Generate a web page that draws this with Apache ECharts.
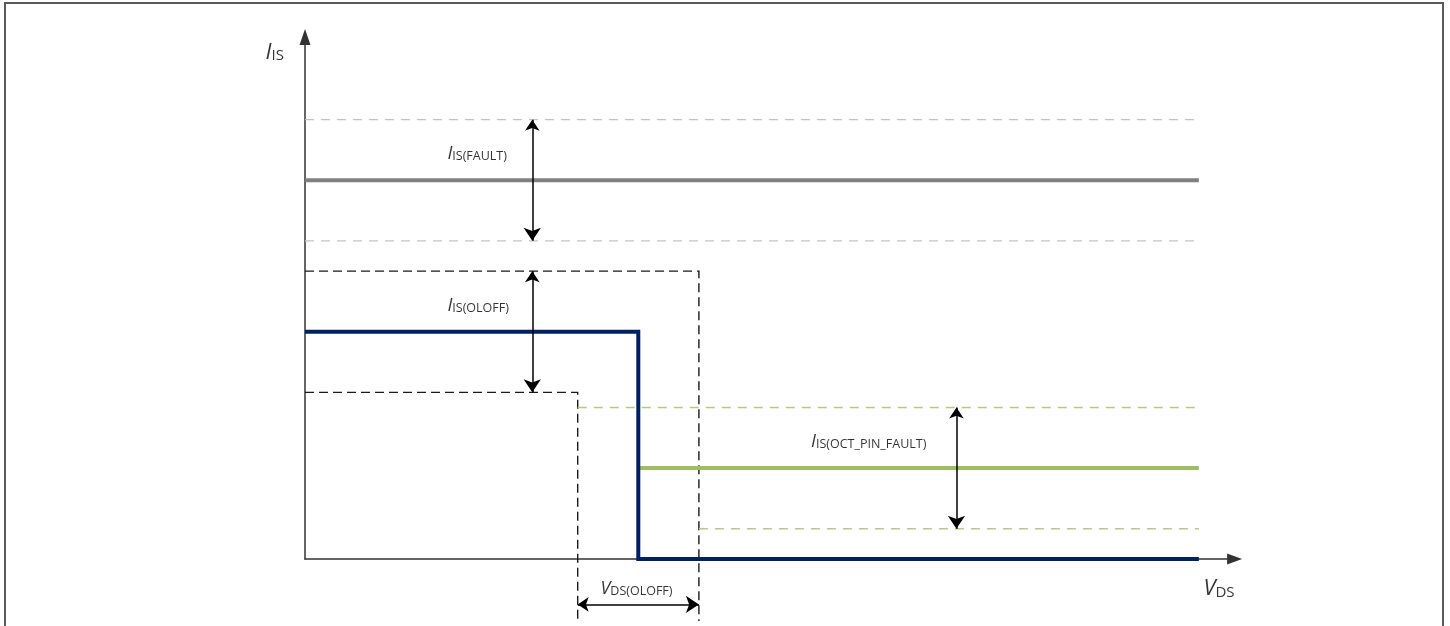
<!DOCTYPE html>
<html>
<head>
<meta charset="utf-8">
<script src="https://cdn.jsdelivr.net/npm/echarts@6/dist/echarts.min.js"></script>
<style>
  html, body { margin: 0; padding: 0; background: #fff; }
  #chart { width: 1450px; height: 626px; }
  .frame {
    position: absolute; left: 4px; top: 2px; width: 1436px; height: 640px;
    border: 2px solid #5a5a5a; border-bottom: none; pointer-events: none;
  }
</style>
</head>
<body>
<div id="chart"></div>
<div class="frame"></div>
<script>
// levels in arbitrary units (schematic)
const xMax = 306.8
const yMax = 172.3
const xEnd = 295          // right end of all level lines
const xLow = 90           // V_DS(OLOFF) lower bound
const xNom = 110          // nominal V_DS(OLOFF)
const xHigh = 130         // V_DS(OLOFF) upper bound
const yBelow = -20.5      // how far the dashed limits run below the x axis

const faultBand = [145, 125, 105]   // max, typ, min of I_IS(FAULT)
const oloffBand = [95, 75, 55]      // max, typ, min of I_IS(OLOFF)
const octBand = [50, 30, 10]        // max, typ, min of I_IS(OCT_PIN_FAULT)

// curves as [x, y] pairs
const blueCurve = [[0, oloffBand[1]], [xNom, oloffBand[1]], [xNom, 0], [xEnd, 0]]
const oloffUpper = [[0, oloffBand[0]], [xHigh, oloffBand[0]], [xHigh, yBelow]]
const oloffLower = [[0, oloffBand[2]], [xLow, oloffBand[2]], [xLow, yBelow]]
const octTyp = [[xNom, octBand[1]], [xEnd, octBand[1]]]
const octMax = [[xLow, octBand[0]], [xEnd, octBand[0]]]
const octMin = [[xHigh, octBand[2]], [xEnd, octBand[2]]]
const faultMax = [[0, faultBand[0]], [xEnd, faultBand[0]]]
const faultTyp = [[0, faultBand[1]], [xEnd, faultBand[1]]]
const faultMin = [[0, faultBand[2]], [xEnd, faultBand[2]]]

// dimension arrows
const arrowFaultX = 75
const arrowOctX = 215
const arrowVdsY = -15
const dimArrows = [
  [[arrowFaultX, faultBand[0]], [arrowFaultX, faultBand[2]]],
  [[arrowFaultX, oloffBand[0]], [arrowFaultX, oloffBand[2]]],
  [[arrowOctX, octBand[0]], [arrowOctX, octBand[2]]],
  [[xLow, arrowVdsY], [xHigh, arrowVdsY]]
]

// label anchors [x, y] (left edge, vertical centre)
const labels = [
  { pos: [-13, 167.5], main: 'I', sub: 'IS', big: true },
  { pos: [296.5, -9.5], main: 'V', sub: 'DS', big: true },
  { pos: [47, 134], main: 'I', sub: 'IS(FAULT)' },
  { pos: [47, 84], main: 'I', sub: 'IS(OLOFF)' },
  { pos: [167, 39], main: 'I', sub: 'IS(OCT_PIN_FAULT)' },
  { pos: [97.5, -9.5], main: 'V', sub: 'DS(OLOFF)' }
]

const font = '"Open Sans", "Noto Sans", sans-serif'
const sc = 3.03   // px per unit on both axes
const chart = echarts.init(document.getElementById('chart'))

const lineSeries = (data, color, width, type) => ({
  type: 'line',
  data: data,
  symbol: 'none',
  clip: false,
  silent: true,
  animation: false,
  lineStyle: { color: color, width: width, type: type || 'solid', cap: 'butt', join: 'miter' },
  z: type ? 2 : 3
})

const option = {
  animation: false,
  grid: { left: 305, right: 1450 - 305 - xMax * sc, top: 559 - yMax * sc, bottom: 67 },
  xAxis: {
    type: 'value', min: 0, max: xMax,
    axisLine: { show: true, onZero: true, symbol: ['none', 'triangle'], symbolSize: [11, 15],
      lineStyle: { color: '#333', width: 1.5 } },
    axisTick: { show: false }, axisLabel: { show: false }, splitLine: { show: false }
  },
  yAxis: {
    type: 'value', min: 0, max: yMax,
    axisLine: { show: true, onZero: true, symbol: ['none', 'triangle'], symbolSize: [11, 16],
      lineStyle: { color: '#333', width: 1.5 } },
    axisTick: { show: false }, axisLabel: { show: false }, splitLine: { show: false }
  },
  series: [
    lineSeries(faultMax, '#c3c3c3', 1.3, [9, 7]),
    lineSeries(faultMin, '#c3c3c3', 1.3, [9, 7]),
    lineSeries(faultTyp, '#808080', 4),
    lineSeries(oloffUpper, '#1a1a1a', 1.4, [9, 5]),
    lineSeries(oloffLower, '#1a1a1a', 1.4, [9, 5]),
    lineSeries(octMax, '#b3cc85', 1.4, [9, 7]),
    lineSeries(octMin, '#b3cc85', 1.4, [9, 7]),
    lineSeries(octTyp, '#9dbd62', 4),
    lineSeries(blueCurve, '#002060', 4),
    {
      type: 'lines',
      coordinateSystem: 'cartesian2d',
      clip: false,
      silent: true,
      animation: false,
      symbol: ['arrow', 'arrow'],
      symbolSize: [11, 13],
      lineStyle: { color: '#000', width: 1.5, opacity: 1 },
      data: dimArrows.map(a => ({ coords: a })),
      z: 5
    },
    {
      type: 'scatter',
      clip: false,
      silent: true,
      animation: false,
      symbolSize: 0,
      data: labels.map(l => ({
        value: l.pos,
        label: {
          show: true,
          position: 'inside',
          align: 'left',
          verticalAlign: 'middle',
          formatter: '{m|' + l.main + '}{s|' + l.sub + '}',
          rich: {
            m: { fontFamily: font, fontStyle: 'italic', fontSize: l.big ? 22 : 18, color: '#000',
              verticalAlign: 'bottom', lineHeight: l.big ? 24 : 20 },
            s: { fontFamily: font, fontSize: l.big ? 15 : 12.5, color: '#000',
              verticalAlign: 'bottom', lineHeight: l.big ? 20 : 17 }
          }
        }
      })),
      z: 6
    }
  ]
}

chart.setOption(option)
window.addEventListener('resize', () => chart.resize())
</script>
</body>
</html>
